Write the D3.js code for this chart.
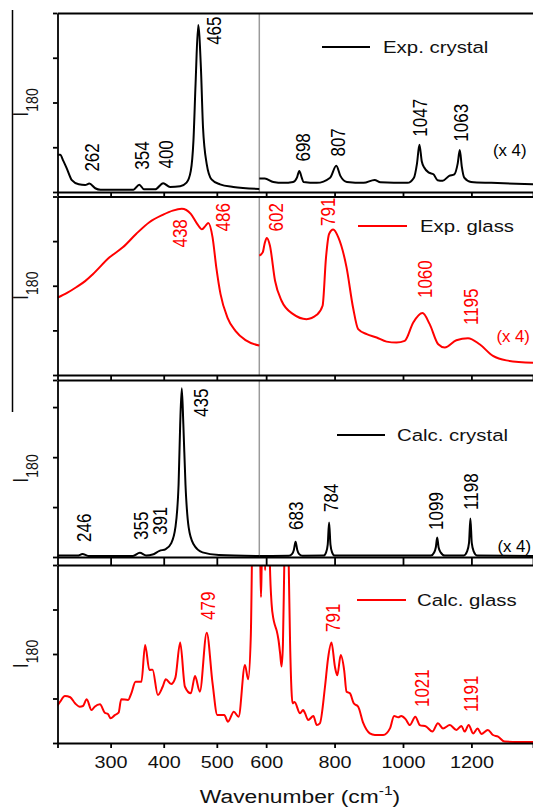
<!DOCTYPE html>
<html>
<head>
<meta charset="utf-8">
<script src="https://cdn.jsdelivr.net/npm/d3@7"></script>
<style>
  body { margin: 0; background: #fff; }
  text { font-family: "Liberation Sans", Arial, sans-serif; }
</style>
</head>
<body>
<svg id="chart" width="533" height="810"></svg>
<script>
// x axis is broken at 580 cm-1, right part is shown x4
const xTicks = [300, 400, 500, 600, 800, 1000, 1200]

// intensities are in % of the panel height, [wavenumber, I180]
const expCrystalLow = [[200,20.8],[205,20.8],[211,17.4],[218,12.8],[227,6.6],[240,4.3],[252,3.9],[260,4.7],[271,2.1],[281,1.3],[343,1.3],[354,4.1],[363,1.5],[384,1.5],[399,4.9],[412,2.8],[431,3.2],[443,5.2],[451,11.8],[456,28.7],[460,60.5],[465,93.3],[470,69.8],[474,36.1],[481,15.6],[490,7.1],[506,4.3],[531,2.8],[580,1.7]]
const expCrystalHigh = [[580,7.5],[596,7.5],[621,5.6],[650,5.1],[679,5.6],[690,8],[697,11.8],[704,8],[709,5.6],[748,5.1],[787,8.0],[805,14.6],[817,9.0],[836,5.6],[885,5.1],[917,6.7],[934,5.4],[1013,5.1],[1032,8.0],[1041,16],[1048,26.4],[1055,17],[1062,13.7],[1076,10.8],[1089,9.9],[1101,6.6],[1116,6.3],[1135,9.0],[1150,9.9],[1160,16],[1166,23.4],[1172,14],[1179,8.0],[1199,5.6],[1258,5.1],[1380,4.3]]
const expGlassLow = [[200,43.3],[218,46],[236,49.3],[252,52.6],[267,56.6],[298,65.9],[323,71.5],[348,79.0],[373,85.6],[398,89.7],[417,92.1],[434,93.1],[451,90.3],[463,84.7],[472,81.6],[479,83.7],[484,85.2],[492,77.1],[499,60.3],[507,45.3],[520,32.2],[535,24.7],[554,19.5],[580,16.5]]
const expGlassHigh = [[580,66.9],[590,68.7],[596,74],[602,76.8],[611,72.5],[626,52.8],[645,41.6],[679,34.1],[718,31.3],[748,33.7],[765,38.8],[775,65.9],[784,79.0],[796,81.5],[811,77.1],[835,60.3],[854,37.8],[869,25.7],[894,22.9],[923,21.0],[952,18.7],[981,18.2],[1005,19.1],[1030,29.4],[1057,34.7],[1078,28.5],[1103,17.2],[1122,15.4],[1156,19.5],[1190,20.6],[1224,17.2],[1263,10.7],[1302,8.2],[1380,6.9]]
const calcCrystalLow = [[200,0.8],[238,0.8],[247,1.7],[258,0.6],[342,0.6],[355,2.4],[367,0.9],[379,1.4],[392,3.5],[404,4.5],[414,7.7],[422,16.7],[428,41.0],[431,74.7],[434,95.3],[437,74.7],[441,41.0],[447,16.7],[456,7.3],[473,2.6],[504,1.1],[580,0.6]]
const calcCrystalHigh = [[580,0.6],[666,0.7],[676,1.8],[681,4],[686,8.6],[691,4],[696,1.8],[706,0.7],[768,0.8],[775,2.5],[780,7],[784,19.5],[788,7],[793,2.5],[800,0.8],[1082,0.8],[1091,2.5],[1096,5.5],[1100,11.0],[1104,5.5],[1110,2.6],[1122,0.8],[1178,0.9],[1187,3],[1193,8],[1197,21.7],[1201,8],[1207,3],[1216,0.9],[1380,0.6]]
const calcGlass = [[200,21.0],[205,23.2],[214,26.4],[224,25.7],[233,22.3],[242,20.4],[248,20.8],[255,24.6],[264,18.5],[270,20.4],[280,21.7],[289,17.0],[295,16.3],[300,13.9],[308,15.7],[315,17.0],[320,24.6],[333,24.2],[339,27.9],[347,34.4],[358,34.4],[365,55.1],[373,41.0],[379,41.2],[389,27.0],[398,31.6],[404,35.8],[414,33.1],[422,36.7],[431,56.4],[440,31.6],[451,27.9],[459,37.6],[468,28.8],[481,62.0],[492,33.5],[501,15.7],[514,15.7],[521,12.0],[532,17.6],[541,14.8],[553,43.8],[559,35.8],[564,60],[568,130],[580,130],[583,100],[585,82],[587,100],[590,130],[594,130],[597,97],[600,130],[608,130],[611,100],[616,78],[621,70],[626,66],[631,63],[636,58],[641,50],[645,43],[649,55],[653,100],[656,130],[663,130],[666,100],[670,56],[674,30],[677,22.3],[683,23],[699,16.7],[708,18.5],[713,17],[723,12.9],[738,15.2],[748,10.1],[757,11],[772,31.6],[781,47.6],[791,56.4],[801,42.9],[808,38],[818,49.4],[828,41],[835,28.8],[845,27.9],[856,22.3],[869,20.4],[884,11.1],[903,5.4],[918,4.5],[942,4.5],[962,8.2],[974,15.2],[986,14.4],[995,15.2],[1008,13.3],[1020,10.1],[1036,14.8],[1049,10.1],[1068,9.2],[1086,6.4],[1102,11.1],[1117,8.2],[1137,10.1],[1156,7.3],[1171,9.6],[1180,6.4],[1192,10.1],[1205,5.4],[1218,8.2],[1229,5.1],[1248,7.3],[1263,4.5],[1278,3.6],[1297,0.8],[1380,0.5]]

// peak labels: [text, wavenumber, I180] of the label's start
const expCrystalPeaks = [['262',279,11.4],['354',373,12.5],['400',418,13.1],['465',508,82.2],['698',728,17.0],['807',830,19.8],['1047',1070,30.9],['1063',1190,28.1]]
const expGlassPeaks = [['438',444,71.4],['486',525,80.4],['602',649,80.4],['791',801,83.5],['1060',1085,43.1],['1195',1219,28.0]]
const calcCrystalPeaks = [['246',264,8.5],['355',371,9.6],['391',407,12.4],['435',484,79.1],['683',708,15.3],['784',810,25.4],['1099',1117,15.3],['1198',1219,26.6]]
const calcGlassPeaks = [['479',497,69.1],['791',816,62.4],['1021',1076,20.2],['1191',1219,17.4]]

// where "(x 4)" sits in each panel
const timesFourNotes = [[1263,20.3],[1273,18.5],[1276,2.8]]

const RED = '#ff0000'
const SX = 1.2   // the original figure is a bit stretched sideways

const panels = [
  { name: 'Exp. crystal', color: '#000', top: 13, bottom: 192, series: [expCrystalLow, expCrystalHigh], peaks: expCrystalPeaks, note: timesFourNotes[0], yTicks: [0, 25, 50, 75, 100], split: true, legend: [34, 322, 370, 383] },
  { name: 'Exp. glass', color: RED, top: 196.5, bottom: 375, series: [expGlassLow, expGlassHigh], peaks: expGlassPeaks, note: timesFourNotes[1], yTicks: [0, 25, 50, 75, 100], split: true, legend: [29.5, 358, 407, 420] },
  { name: 'Calc. crystal', color: '#000', top: 380, bottom: 557, series: [calcCrystalLow, calcCrystalHigh], peaks: calcCrystalPeaks, note: timesFourNotes[2], yTicks: [0, 28.2, 56.4, 84.7, 100], split: true, legend: [55, 337, 385, 397] },
  { name: 'Calc. glass', color: RED, top: 565, bottom: 743, series: [calcGlass], peaks: calcGlassPeaks, note: null, yTicks: [0, 25, 50, 75, 100], split: false, legend: [35, 357, 406, 417] }
]

const svg = d3.select('#chart')

const x = d3.scaleLinear().domain([200, 580, 1380]).range([57.5, 259.3, 533])

const addText = (g, str, px, py, size, color, rotated, sx = SX) => g.append('text')
  .attr('transform', rotated
    ? `translate(${px},${py}) rotate(-90) scale(1,${sx})`
    : `translate(${px},${py}) scale(${sx},1)`)
  .attr('font-size', size)
  .attr('fill', color)
  .text(str)

// stray frame line at the far left
svg.append('line')
  .attr('x1', 12.5).attr('x2', 12.5).attr('y1', 10).attr('y2', 412)
  .attr('stroke', '#000').attr('stroke-width', 1.5)

panels.forEach((p, i) => {
  const y = d3.scaleLinear().domain([0, 100]).range([p.bottom, p.top])
  const g = svg.append('g')

  const clipId = `clip${i}`
  svg.append('clipPath').attr('id', clipId)
    .append('rect')
    .attr('x', 57.5).attr('y', p.top)
    .attr('width', 533 - 57.5).attr('height', p.bottom - p.top)

  if (p.split) {
    g.append('line')
      .attr('x1', x(580)).attr('x2', x(580))
      .attr('y1', p.top).attr('y2', p.bottom)
      .attr('stroke', '#9a9a9a').attr('stroke-width', 1.5)
  }

  const line = d3.line()
    .x(d => x(d[0]))
    .y(d => y(d[1]))
    .curve(d3.curveMonotoneX)

  g.append('g').attr('clip-path', `url(#${clipId})`)
    .selectAll('path')
    .data(p.series)
    .join('path')
    .attr('d', line)
    .attr('fill', 'none')
    .attr('stroke', p.color)
    .attr('stroke-width', 2)
    .attr('stroke-linejoin', 'round')

  // frame: left, top, bottom
  const next = panels[i + 1]
  const bottomAxis = d3.axisBottom(x).tickValues(xTicks).tickSizeOuter(0).tickFormat(d3.format('d'))
  if (next) bottomAxis.tickSize(next.top - p.bottom).tickFormat('')
  else bottomAxis.tickSize(5).tickPadding(8)

  const bx = g.append('g')
    .attr('transform', `translate(0,${p.bottom})`)
    .call(bottomAxis)

  g.append('g')
    .attr('transform', `translate(0,${p.top})`)
    .call(d3.axisTop(x).tickValues([]).tickSizeOuter(0))

  g.append('g')
    .attr('transform', 'translate(57.5,0)')
    .call(d3.axisLeft(y).tickValues(p.yTicks).tickSize(4.5).tickSizeOuter(0).tickFormat(''))

  g.selectAll('path.domain, .tick line')
    .attr('stroke', '#000').attr('stroke-width', 1.8)

  if (!next) {
    bx.selectAll('.tick text')
      .attr('font-size', 16.5)
      .attr('font-family', '"Liberation Sans", Arial, sans-serif')
      .attr('fill', '#111')
      .attr('transform', `scale(${SX},1)`)
  }

  // y label I180
  const yl = g.append('text')
    .attr('transform', `translate(28,${(p.top + p.bottom) / 2}) rotate(-90) scale(1,${SX})`)
    .attr('text-anchor', 'middle')
    .attr('fill', '#111')
  yl.append('tspan').attr('font-size', 18).text('I')
  yl.append('tspan').attr('font-size', 14).attr('dy', 8).text('180')

  // peak labels
  p.peaks.forEach(d => addText(g, d[0], x(d[1]), y(d[2]), 17, p.color, true))

  if (p.note) addText(g, '(x 4)', x(p.note[0]), y(p.note[1]), 16, p.color, false, 1.05)

  // legend
  const [ly, lx0, lx1, tx] = p.legend
  g.append('line')
    .attr('x1', lx0).attr('x2', lx1)
    .attr('y1', p.top + ly).attr('y2', p.top + ly)
    .attr('stroke', p.color).attr('stroke-width', 1.8)
  addText(g, p.name, tx, p.top + ly + 6, 17, '#111', false)
})

// axis title
const title = svg.append('text')
  .attr('transform', `translate(300,803) scale(${SX},1)`)
  .attr('text-anchor', 'middle')
  .attr('font-size', 19)
  .attr('fill', '#111')
title.append('tspan').text('Wavenumber (cm')
title.append('tspan').attr('font-size', 13).attr('dy', -8).text('-1')
title.append('tspan').attr('dy', 8).text(')')
</script>
</body>
</html>
